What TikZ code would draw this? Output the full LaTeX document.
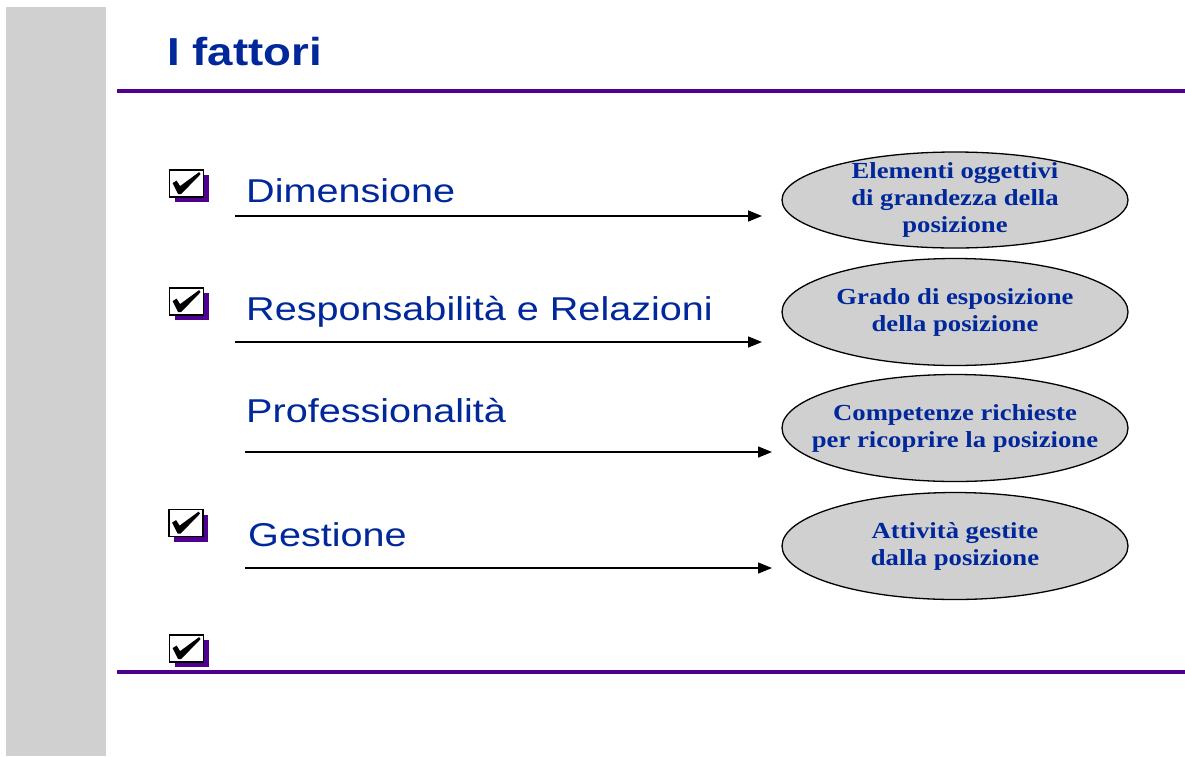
\documentclass[tikz,border=0pt]{standalone}
\usepackage{fontspec}
\usepackage{tikz}
\usetikzlibrary{positioning,arrows.meta,shapes,shadows}
\setmainfont{Liberation Sans}
\newfontfamily\labelfont[FakeStretch=1.2]{Liberation Sans}
\newfontfamily\titlefont[FakeStretch=1.17]{Liberation Sans}
\newfontfamily\ovalfont[FakeStretch=1.16]{Liberation Serif}
\definecolor{titleblue}{RGB}{0,40,155}
\definecolor{barviolet}{RGB}{80,0,145}
\definecolor{sidegrey}{RGB}{208,208,208}

\begin{document}
\begin{tikzpicture}[x=1pt,y=-1pt,node distance=116pt,on grid,
    factor/.style={anchor=base west,inner sep=0pt,text=titleblue,font=\labelfont\fontsize{33}{40}\selectfont},
    oval/.style={ellipse,draw,line width=1.3pt,fill=sidegrey,minimum width=346pt,minimum height=107pt,
        inner xsep=-60pt,inner ysep=-20pt,align=center,text=titleblue,font=\ovalfont\bfseries\fontsize{23}{27}\selectfont},
    checkbox/.style={draw,line width=1.8pt,fill=white,minimum width=34pt,minimum height=27pt,inner sep=0pt,
        drop shadow={shadow xshift=5pt,shadow yshift=-5pt,fill=barviolet,opacity=1}},
    link/.style={-{Triangle[length=14pt,width=11pt]},line width=1.5pt}]
    \fill[white] (0,0) rectangle (1185,756);
    \useasboundingbox (0,0) rectangle (1185,756);
    \fill[sidegrey] (6,7) rectangle (106,756);
    \draw[barviolet,line width=4pt] (117,91) -- (1185,91);
    \draw[barviolet,line width=3.5pt] (117,672) -- (1185,672);

    \node[factor,font=\titlefont\bfseries\fontsize{39}{47}\selectfont] (title) at (167,65) {I fattori};

    \node[checkbox] (c1) at (186.5,183.5) {};
    \node[checkbox] (c2) at (186.5,301.5) {};
    \node[checkbox] (c3) at (186,523) {};
    \node[checkbox] (c4) at (186.5,648.5) {};
    \foreach \c in {c1,c2,c3,c4}
        \fill[shift={(\c.north west)}]
            (4,14) -- (8,11.5) -- (11.5,17) -- (30.5,3) -- (32,5) -- (12.5,25) -- (9.5,25) -- cycle;

    \node[factor] (dim) at (246,202) {Dimensione};
    \node[factor] (resp) at (246,320) {Responsabilità e Relazioni};
    \node[factor] (prof) at (246,422) {Professionalità};
    \node[factor] (gest) at (248,546) {Gestione};

    \node[oval,minimum height=96pt] (e1) at (955,200) {Elementi oggettivi\\di grandezza della\\posizione};
    \node[oval] (e2) [below=112pt of e1] {Grado di esposizione\\della posizione};
    \node[oval] (e3) [below of=e2] {Competenze richieste\\per ricoprire la posizione};
    \node[oval] (e4) [below=118pt of e3] {Attività gestite\\dalla posizione};

    \coordinate (s1) at (235,216);
    \coordinate (t1) at (762,216);
    \coordinate (s2) at (235,342);
    \coordinate (t2) at (762,342);
    \coordinate (s3) at (245,452);
    \coordinate (t3) at (772,452);
    \coordinate (s4) at (245,568);
    \coordinate (t4) at (772,568);
    \draw[link] (s1) -- (t1);
    \draw[link] (s2) -- (t2);
    \draw[link] (s3) -- (t3);
    \draw[link] (s4) -- (t4);
\end{tikzpicture}
\end{document}
